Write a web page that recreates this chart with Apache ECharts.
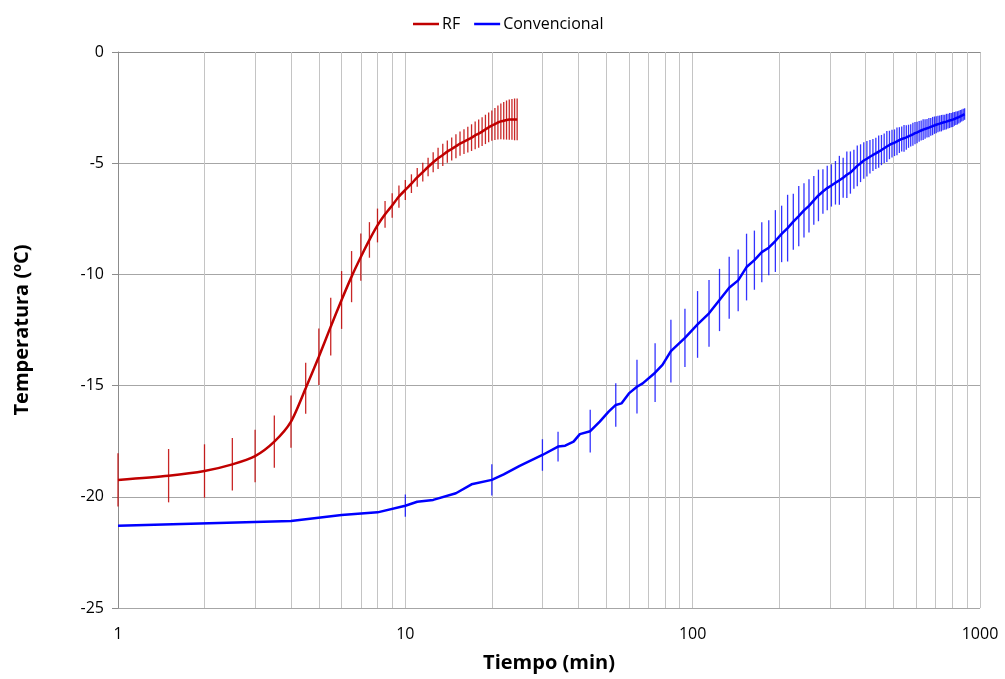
<!DOCTYPE html>
<html>
<head>
<meta charset="utf-8">
<script src="https://cdn.jsdelivr.net/npm/echarts@6/dist/echarts.min.js"></script>
<style>
  html, body { margin: 0; padding: 0; background: #fff; }
  #chart { width: 1005px; height: 679px; }
</style>
</head>
<body>
<div id="chart"></div>
<script>
// ── RF: time (min), mean temperature (ºC), error half-width ──
const rfTime = [1, 1.5, 2, 2.5, 3, 3.5, 4, 4.5, 5, 5.5, 6, 6.5, 7, 7.5, 8, 8.5, 9, 9.5,
  10, 10.5, 11, 11.5, 12, 12.5, 13, 13.5, 14, 14.5, 15, 15.5, 16, 16.5, 17, 17.5,
  18, 18.5, 19, 19.5, 20, 20.5, 21, 21.5, 22, 22.5, 23, 23.5, 24, 24.5];
const rfTemp = [-19.24, -19.05, -18.84, -18.54, -18.17, -17.52, -16.62, -15.12, -13.7, -12.35,
  -11.15, -10.1, -9.22, -8.45, -7.8, -7.3, -6.9, -6.5,
  -6.2, -5.92, -5.64, -5.4, -5.17, -4.96, -4.78, -4.63, -4.48, -4.36, -4.24, -4.12,
  -4.03, -3.94, -3.85, -3.75, -3.67, -3.58, -3.48, -3.39, -3.31, -3.24, -3.17, -3.12,
  -3.09, -3.06, -3.04, -3.03, -3.03, -3.03];
const rfErr = [1.2, 1.2, 1.2, 1.18, 1.18, 1.17, 1.17, 1.15, 1.27, 1.3, 1.3, 1.15, 1.06, 0.8,
  0.76, 0.6, 0.55, 0.5, 0.45, 0.42, 0.42, 0.42, 0.42, 0.45, 0.48, 0.5, 0.5, 0.52, 0.54,
  0.55, 0.56, 0.58, 0.6, 0.62, 0.64, 0.65, 0.66, 0.67, 0.68, 0.72, 0.76, 0.8, 0.84, 0.88,
  0.9, 0.92, 0.94, 0.94];

// ── Convencional: time (min), mean temperature (ºC), error half-width (null = no bar) ──
const convTime = [1, 4, 6, 8, 10, 11, 12.5, 15, 17, 20, 22, 25, 30, 34, 36, 38.5, 40.5, 44,
  47.5, 51, 54, 56.5, 60, 64, 67, 74, 78.5, 84,
  94, 104, 114, 124, 134, 144, 154, 164, 174, 184, 194, 204, 214, 224, 234, 244, 254, 264,
  274, 284, 294, 304, 314, 324, 334, 344, 354, 364, 374, 384, 394, 404, 414, 424, 434, 444,
  454, 464, 474, 484, 494, 504, 514, 524, 534, 544, 554, 564, 574, 584, 594, 604, 614, 624,
  634, 644, 654, 664, 674, 684, 694, 704, 714, 724, 734, 744, 754, 764, 774, 784, 794, 804,
  814, 824, 834, 844, 854, 864, 874, 884];
const convTemp = [-21.3, -21.09, -20.82, -20.7, -20.4, -20.22, -20.14, -19.84, -19.44, -19.24,
  -18.99, -18.61, -18.12, -17.74, -17.7, -17.52, -17.18, -17.05, -16.62, -16.17, -15.87,
  -15.8, -15.35, -15.05, -14.9, -14.42, -14.07, -13.45,
  -12.85, -12.25, -11.75, -11.15, -10.6, -10.27, -9.67, -9.36, -9.0, -8.8, -8.5, -8.18,
  -7.92, -7.63, -7.38, -7.12, -6.92, -6.67, -6.45, -6.27, -6.12, -6.0, -5.88, -5.77, -5.65,
  -5.52, -5.42, -5.27, -5.12, -5.0, -4.88, -4.8, -4.71, -4.63, -4.56, -4.48, -4.41, -4.33,
  -4.25, -4.18, -4.12, -4.08, -4.02, -3.96, -3.91, -3.88, -3.84, -3.79, -3.75, -3.7, -3.65,
  -3.62, -3.57, -3.53, -3.49, -3.46, -3.43, -3.4, -3.37, -3.33, -3.29, -3.27, -3.24, -3.22,
  -3.2, -3.17, -3.16, -3.13, -3.11, -3.08, -3.06, -3.04, -3.01, -2.98, -2.96, -2.93, -2.89,
  -2.86, -2.82, -2.79];
const convErr = [null, null, null, null, 0.5, null, null, null, null, 0.7, null, null, 0.71,
  0.67, null, null, null, 0.96, null, null, 0.98, null, null, 1.21, null, 1.32, null, 1.41,
  1.31, 1.5, 1.5, 1.4, 1.39, 1.39, 1.5, 1.33, 1.35, 1.24, 1.39, 1.27, 1.5, 1.26, 1.35, 1.22,
  1.2, 1.1, 1.16, 1.0, 1.0, 0.95, 0.98, 1.1, 0.9, 1.05, 0.95, 0.88, 0.92, 0.85, 0.82, 0.8,
  0.75, 0.72, 0.7, 0.72, 0.68, 0.66, 0.7, 0.64, 0.62, 0.6, 0.62, 0.58, 0.56, 0.6, 0.55,
  0.52, 0.5, 0.52, 0.5, 0.48, 0.47, 0.45, 0.47, 0.44, 0.42, 0.43, 0.4, 0.41, 0.39, 0.38,
  0.37, 0.36, 0.37, 0.35, 0.34, 0.35, 0.33, 0.34, 0.32, 0.33, 0.31, 0.3, 0.3, 0.29, 0.28,
  0.27, 0.27, 0.26];

// minor log grid lines (2..9 in each decade)
const minorTicks = [2, 3, 4, 5, 6, 7, 8, 9, 20, 30, 40, 50, 60, 70, 80, 90,
  200, 300, 400, 500, 600, 700, 800, 900];

const yTicks = { min: -25, max: 0, interval: 5 };

const FONT = 'Open Sans';
const RED = '#C00000';
const BLUE = '#0000FF';

function errData(time, temp, err) {
  const out = [];
  time.forEach((t, i) => {
    if (err[i] != null) out.push([t, temp[i] - err[i], temp[i] + err[i]]);
  });
  return out;
}

function errRender(color, opacity) {
  return (params, api) => {
    const x = api.value(0);
    const p1 = api.coord([x, api.value(1)]);
    const p2 = api.coord([x, api.value(2)]);
    return {
      type: 'line',
      shape: { x1: p1[0], y1: p1[1], x2: p2[0], y2: p2[1] },
      style: { stroke: color, lineWidth: 1.3, opacity: opacity },
    };
  };
}

const chart = echarts.init(document.getElementById('chart'), null, { renderer: 'canvas' });

chart.setOption({
  animation: false,
  backgroundColor: '#fff',
  textStyle: { fontFamily: FONT },
  legend: {
    left: 408, top: 11,
    icon: 'rect', itemWidth: 26, itemHeight: 2.5, itemGap: 14,
    textStyle: { fontFamily: FONT, fontSize: 16, color: '#000', padding: [0, 0, 0, -2] },
    data: ['RF', 'Convencional'],
  },
  grid: { left: 118, right: 25, top: 52, bottom: 71, containLabel: false },
  xAxis: {
    type: 'log', logBase: 10, min: 1, max: 1000,
    name: 'Tiempo (min)', nameLocation: 'middle', nameGap: 45,
    nameTextStyle: { fontFamily: FONT, fontSize: 20, fontWeight: 'bold', color: '#000' },
    axisLine: { lineStyle: { color: '#8c8c8c', width: 1 } },
    axisTick: { show: false },
    axisLabel: { fontFamily: FONT, fontSize: 16, color: '#000', margin: 18,
      formatter: v => String(v) },
    splitLine: { show: true, lineStyle: { color: '#c4c4c4', width: 1 } },
  },
  yAxis: {
    type: 'value', min: yTicks.min, max: yTicks.max, interval: yTicks.interval,
    name: 'Temperatura (ºC)', nameLocation: 'middle', nameGap: 86,
    nameTextStyle: { fontFamily: FONT, fontSize: 20, fontWeight: 'bold', color: '#000' },
    axisLine: { show: true, lineStyle: { color: '#8c8c8c', width: 1 } },
    axisTick: { show: true, length: 6, lineStyle: { color: '#8c8c8c' } },
    axisLabel: { fontFamily: FONT, fontSize: 16, color: '#000', margin: 14 },
    splitLine: { show: true, lineStyle: { color: '#a6a6a6', width: 1 } },
  },
  series: [
    {
      name: 'grid-minor', type: 'line', data: [], z: 1, silent: true,
      markLine: {
        silent: true, z: 1, symbol: ['none', 'none'], animation: false,
        label: { show: false },
        emphasis: { disabled: true },
        lineStyle: { color: '#c4c4c4', type: 'solid', width: 1 },
        data: minorTicks.map(v => ({ xAxis: v })),
      },
    },
    {
      name: 'RF-err', type: 'custom', z: 3,
      renderItem: errRender(RED, 0.85),
      encode: { x: 0, y: [1, 2] },
      data: errData(rfTime, rfTemp, rfErr),
    },
    {
      name: 'Convencional-err', type: 'custom', z: 3,
      renderItem: errRender(BLUE, 0.8),
      encode: { x: 0, y: [1, 2] },
      data: errData(convTime, convTemp, convErr),
    },
    {
      name: 'RF', type: 'line', z: 4, symbol: 'none', smooth: 0.25,
      color: RED,
      lineStyle: { color: RED, width: 2.5 },
      data: rfTime.map((t, i) => [t, rfTemp[i]]),
    },
    {
      name: 'Convencional', type: 'line', z: 4, symbol: 'none',
      color: BLUE,
      lineStyle: { color: BLUE, width: 2.5 },
      data: convTime.map((t, i) => [t, convTemp[i]]),
    },
  ],
});
</script>
</body>
</html>
